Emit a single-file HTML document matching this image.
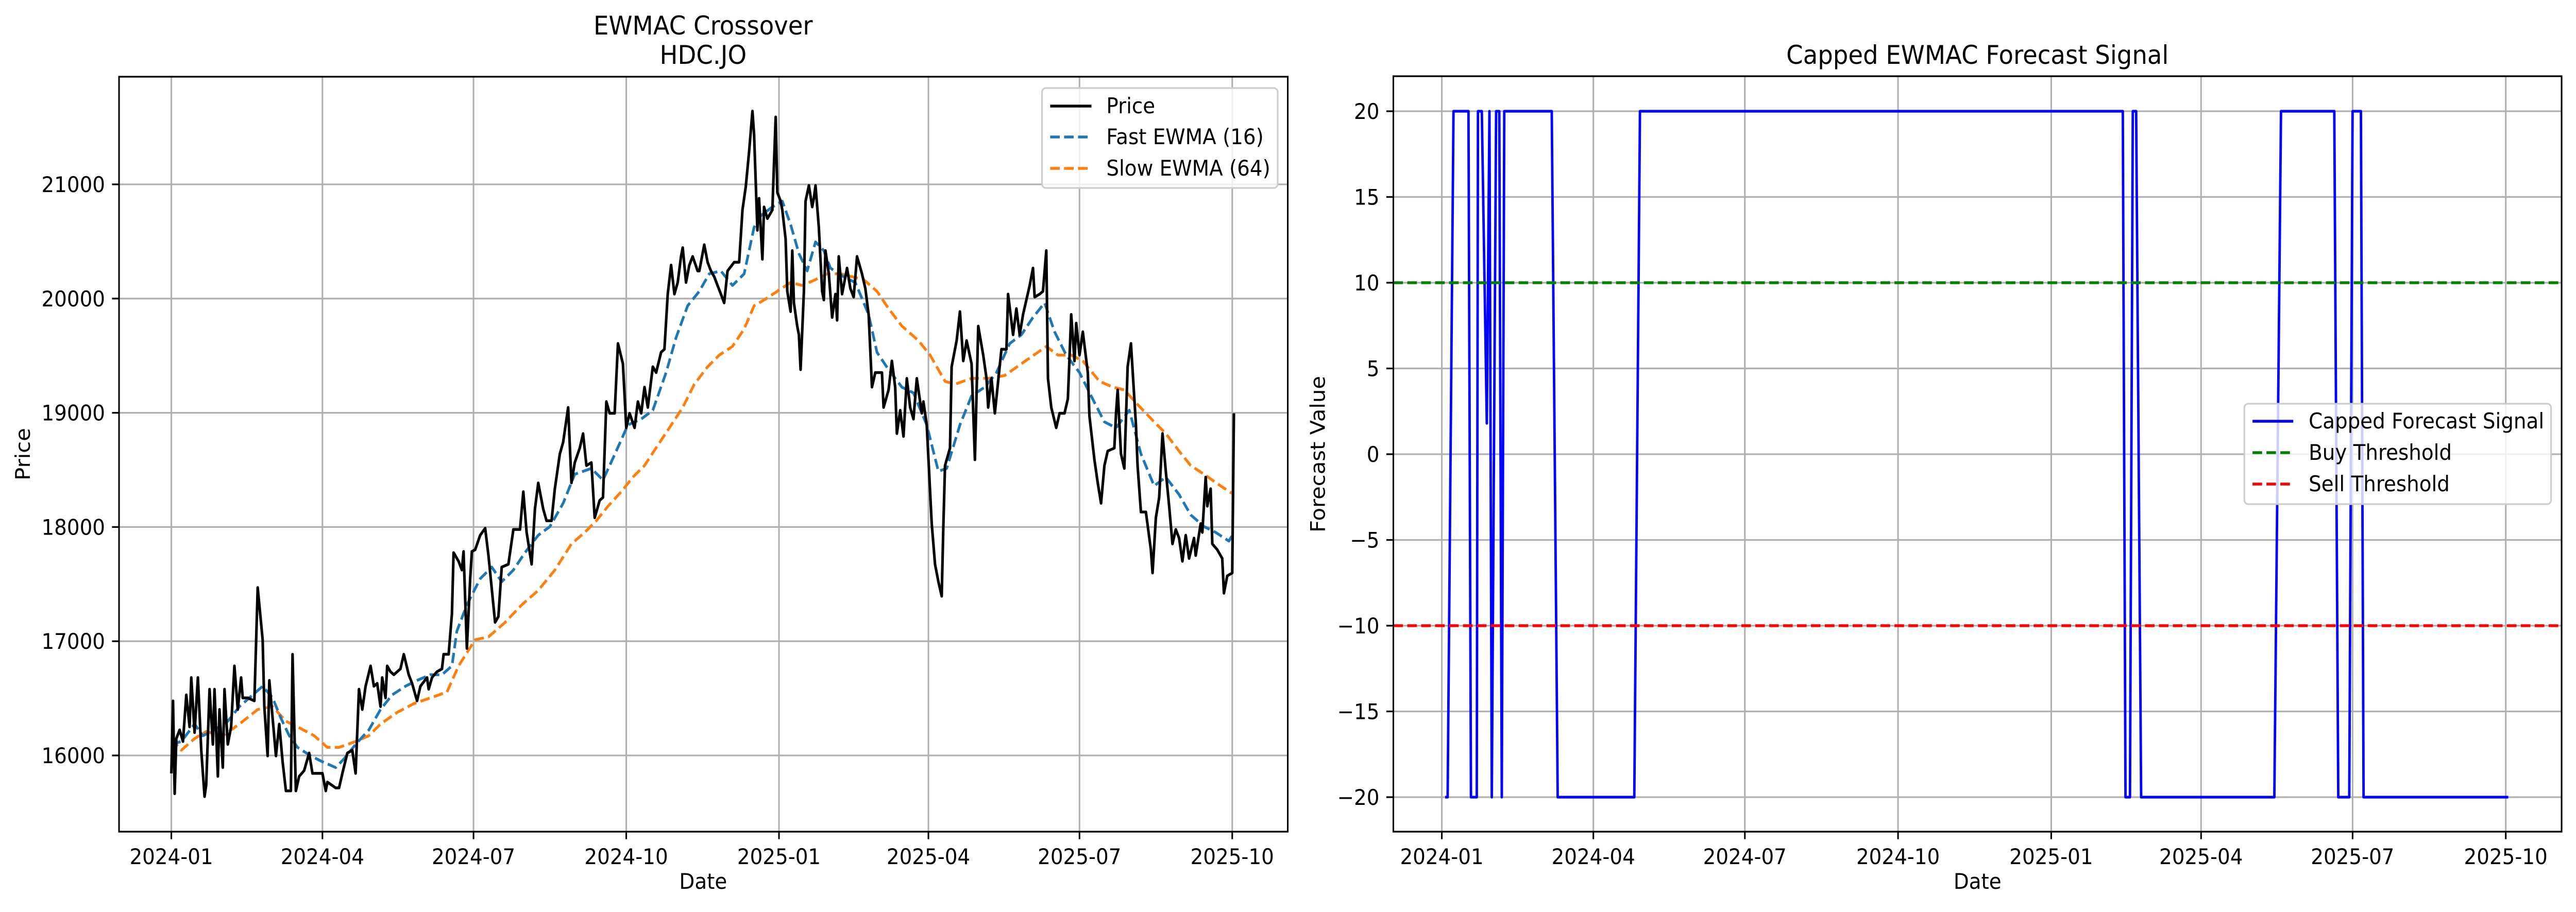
<!DOCTYPE html>
<html><head><meta charset="utf-8"><style>
html,body{margin:0;padding:0;background:#fff;width:100%;height:100%;overflow:hidden;}
svg#chart{display:block;position:absolute;left:0;top:0;width:100vw;height:100vh;font-family:"DejaVu Sans","Liberation Sans",sans-serif;}
</style></head><body>
<svg id="chart" viewBox="0 0 5367 1771" preserveAspectRatio="none" xmlns="http://www.w3.org/2000/svg">
<rect width="5367" height="1771" fill="#fff"/>
<g id="left"></g>
<g id="right"></g>
<g id="annot" font-family="DejaVu Sans, Liberation Sans, sans-serif">
<text x="1465" y="67" font-size="50" text-anchor="middle">EWMAC Crossover</text>
<text x="1465" y="124" font-size="50" text-anchor="middle">HDC.JO</text>
<text x="1465" y="1726" font-size="41.7" text-anchor="middle">Date</text>
<text x="0" y="0" font-size="41.7" text-anchor="middle" transform="translate(62,882) rotate(-90)">Price</text>
<text x="4120" y="124" font-size="50" text-anchor="middle">Capped EWMAC Forecast Signal</text>
<text x="4120" y="1726" font-size="41.7" text-anchor="middle">Date</text>
<text x="0" y="0" font-size="41.7" text-anchor="middle" transform="translate(2760,882) rotate(-90)">Forecast Value</text>
<g>
<rect x="2171" y="171" width="491" height="194" rx="8" fill="#fff" fill-opacity="0.8" stroke="#cccccc" stroke-width="3.3"/>
<line x1="2188" x2="2274" y1="206" y2="206" stroke="#000" stroke-width="5.5"/>
<text x="2305" y="220" font-size="41.7">Price</text>
<line x1="2188" x2="2274" y1="266" y2="266" stroke="#1f77b4" stroke-width="5.5" stroke-dasharray="20 9"/>
<text x="2305" y="280" font-size="41.7">Fast EWMA (16)</text>
<line x1="2188" x2="2274" y1="327" y2="327" stroke="#ff7f0e" stroke-width="5.5" stroke-dasharray="20 9"/>
<text x="2305" y="341" font-size="41.7">Slow EWMA (64)</text>
</g>
<g>
<rect x="4676" y="784" width="639" height="195" rx="8" fill="#fff" fill-opacity="0.8" stroke="#cccccc" stroke-width="3.3"/>
<line x1="4693" x2="4778" y1="818" y2="818" stroke="#0000ff" stroke-width="5.5"/>
<text x="4810" y="832" font-size="41.7">Capped Forecast Signal</text>
<line x1="4693" x2="4778" y1="879" y2="879" stroke="#008000" stroke-width="5.5" stroke-dasharray="20 9"/>
<text x="4810" y="893" font-size="41.7">Buy Threshold</text>
<line x1="4693" x2="4778" y1="940" y2="940" stroke="#ff0000" stroke-width="5.5" stroke-dasharray="20 9"/>
<text x="4810" y="954" font-size="41.7">Sell Threshold</text>
</g>
</g>
</svg>
<script>
const xTickLabels = ["2024-01","2024-04","2024-07","2024-10","2025-01","2025-04","2025-07","2025-10"];
const xTickDays = [0,91,182,274,366,456,547,639];
const priceTicks = [16000,17000,18000,19000,20000,21000];
const signalTicks = [-20,-15,-10,-5,0,5,10,15,20];

const priceDays = [0,1,2,3,5,7,9,11,12,14,16,18,20,21,23,25,26,28,29,31,32,34,36,38,40,42,43,46,50,52,55,56,58,59,61,63,65,67,69,72,73,75,77,80,83,85,91,93,94,99,101,103,106,109,111,113,115,117,120,122,124,126,127,129,130,132,134,138,140,143,145,148,150,154,155,157,160,163,164,167,169,170,173,175,176,178,180,181,183,186,189,191,195,197,199,203,206,210,212,214,217,219,221,224,226,229,231,234,236,239,241,243,246,248,250,253,255,258,260,262,264,267,269,272,274,276,279,281,283,285,287,290,292,295,297,299,301,303,305,307,308,310,312,314,317,318,321,323,325,327,329,331,333,335,339,342,344,346,348,350,351,353,354,356,357,359,362,363,364,365,367,368,370,371,373,374,375,377,378,379,381,382,384,386,387,388,390,392,393,394,396,398,400,401,402,404,407,409,411,413,416,418,420,422,424,428,429,432,434,436,437,439,441,443,445,447,449,452,453,455,458,460,462,464,465,466,469,470,473,475,477,479,482,484,486,489,491,492,494,496,500,503,504,507,509,511,513,517,519,520,523,525,527,528,530,533,535,538,540,542,544,545,547,549,552,553,556,558,560,562,564,568,569,570,572,574,576,578,581,582,584,587,590,591,593,595,597,599,601,603,605,607,609,611,613,616,617,620,621,623,624,626,627,630,633,634,636,639,640];
const priceValues = [15843,16478,15665,16148,16224,16122,16530,16250,16682,16200,16682,16046,15640,15741,16580,16097,16580,15817,16402,15894,16580,16097,16250,16784,16402,16682,16504,16504,16478,17470,17013,16428,15996,16657,16326,15996,16275,15945,15690,15690,16886,15690,15817,15868,16021,15843,15843,15690,15767,15716,15716,15843,16021,16046,15843,16580,16402,16606,16784,16606,16631,16428,16682,16504,16784,16733,16707,16758,16886,16707,16631,16478,16606,16682,16580,16682,16733,16758,16886,16886,17242,17776,17700,17623,17786,16937,17547,17786,17801,17928,17989,17750,17165,17216,17649,17674,17979,17979,18309,17953,17674,18157,18386,18157,18055,18055,18335,18640,18742,19047,18386,18564,18691,18818,18538,18564,18081,18233,18259,19098,18996,18996,19607,19429,18869,18996,18869,19098,18996,19225,19047,19403,19352,19530,19556,20039,20293,20039,20141,20369,20446,20141,20293,20369,20242,20242,20471,20318,20242,20191,20115,20039,19962,20242,20318,20318,20776,20980,21285,21641,21438,20598,20878,20344,20802,20700,20776,21183,21590,20929,20853,20776,20522,20064,19886,20420,19962,19759,19683,19378,20064,20853,20990,20802,20878,20990,20624,20064,19988,20420,20217,19835,20039,19810,20369,20039,20267,20089,20013,20369,20217,20089,19860,19225,19352,19352,19047,19200,19454,19225,18818,19022,18793,19301,19047,18945,19301,18996,19098,18894,18030,17674,17521,17394,18004,18538,18691,19403,19632,19886,19454,19632,19429,18589,19759,19505,19301,19047,19301,18996,19556,19556,20039,19683,19912,19683,19861,20115,20267,20013,20039,20064,20420,19301,19047,18869,18996,18996,19123,19861,19454,19785,19505,19709,19352,18971,18589,18386,18208,18538,18665,18691,18996,19200,18640,18513,19403,19607,18894,18538,18131,18131,17801,17598,18081,18259,18818,18488,18182,17852,17979,17903,17700,17928,17725,17903,17750,18030,17953,18437,18182,18335,17852,17801,17725,17420,17572,17598,18996];

const fastDays = [0,6,14,19,26,34,41,49,55,61,66,71,76,84,91,99,104,111,119,126,133,141,148,156,163,169,172,178,186,193,199,206,213,221,228,236,243,253,260,268,275,283,290,298,304,311,318,324,331,338,345,351,355,362,368,373,378,383,388,393,397,405,412,420,425,432,440,447,455,462,467,475,482,490,497,505,512,519,526,532,539,547,554,562,569,577,584,592,599,607,614,622,629,637,640];
const fastValues = [16097,16122,16275,16173,16224,16300,16428,16530,16606,16504,16326,16173,16071,15996,15945,15894,15970,16097,16224,16402,16530,16606,16657,16707,16707,16784,17089,17318,17547,17649,17521,17623,17776,17928,18004,18208,18462,18513,18411,18665,18894,18945,19022,19352,19658,19937,20064,20217,20242,20115,20217,20624,20725,20802,20853,20649,20395,20242,20496,20420,20267,20191,20140,19860,19530,19378,19225,19174,18894,18488,18513,18894,19148,19225,19352,19607,19683,19835,19962,19709,19505,19352,19148,18920,18869,19022,18640,18360,18437,18284,18106,18004,17953,17877,17953];

const slowDays = [0,6,14,21,31,41,52,61,69,76,86,94,101,111,119,126,136,146,156,166,173,183,191,201,211,221,231,241,249,256,263,271,278,285,293,300,308,315,323,330,338,345,351,357,365,373,380,388,395,403,410,417,425,432,440,450,457,466,472,482,492,502,512,522,527,534,542,549,559,567,574,582,592,599,607,614,622,632,640];
const slowValues = [16148,16046,16148,16209,16173,16275,16402,16428,16300,16250,16173,16071,16071,16122,16173,16275,16377,16453,16504,16555,16784,17013,17038,17165,17318,17445,17623,17852,17953,18055,18182,18309,18437,18538,18716,18869,19047,19250,19403,19505,19581,19734,19937,19988,20064,20141,20115,20166,20217,20217,20191,20166,20064,19912,19760,19632,19505,19276,19250,19301,19301,19327,19429,19530,19581,19505,19505,19454,19276,19225,19200,19073,18920,18818,18665,18538,18462,18360,18284];

const signalDays = [2,3.5,7,16,17.5,21,21.7,24,27,28.6,30,32.6,34.5,36,37.5,66,69.6,115.6,119,409,410.6,413.3,415,417,420,500,504,536,538.4,545,547,552,553.6,640.5];
const signalValues = [-20,-20,20,20,-20,-20,20,20,1.8,20,-20,20,20,-20,20,20,-20,-20,20,20,-20,-20,20,20,-20,-20,20,20,-20,-20,20,20,-20,-20];
const buyThreshold = [10];
const sellThreshold = [-10];

const NS = "http://www.w3.org/2000/svg";
function mk(parent, tag, attrs, text){
  const e = document.createElementNS(NS, tag);
  for (const k in attrs) e.setAttribute(k, attrs[k]);
  if (text !== undefined) e.textContent = text;
  parent.appendChild(e);
  return e;
}
const FS = 41.7;

function drawPanel(g, cfg){
  const {L,R,T,B,xs,ys,yTicks,yFmt} = cfg;
  xTickDays.forEach((d,i)=>{
    const x = xs(d);
    const gl = mk(g,"line",{x1:x,x2:x,y1:T,y2:B,stroke:"#b0b0b0","stroke-width":3.3});
    
    
    const tk = mk(g,"line",{x1:x,x2:x,y1:B,y2:B+14.6,stroke:"#000","stroke-width":3.3});
    
    
    const tl = mk(g,"text",{x:x,y:B+63,"font-size":FS,"text-anchor":"middle",fill:"#000"},xTickLabels[i]);
    
    
  });
  yTicks.forEach(v=>{
    const y = ys(v);
    const gl = mk(g,"line",{x1:L,x2:R,y1:y,y2:y,stroke:"#b0b0b0","stroke-width":3.3});
    
    
    const tk = mk(g,"line",{x1:L-14.6,x2:L,y1:y,y2:y,stroke:"#000","stroke-width":3.3});
    
    
    const tl = mk(g,"text",{x:L-29,y:y+15,"font-size":FS,"text-anchor":"end",fill:"#000"},yFmt(v));
    
    
  });
}
function frame(g,L,R,T,B){
  const f = mk(g,"rect",{x:L,y:T,width:R-L,height:B-T,fill:"none",stroke:"#000","stroke-width":3.3});
  
  
}
function poly(g, days, vals, xs, ys, attrs, name){
  const pts = days.map((d,i)=>xs(d).toFixed(1)+","+ys(vals[i]).toFixed(1)).join(" ");
  const p = mk(g,"polyline",Object.assign({points:pts,fill:"none","stroke-linejoin":"round"},attrs));
  
  
  return p;
}

const gl = document.getElementById("left");
const LL=248, LR=2683, LT=149, LB=1615;
const lxs = d => 357 + d*3.459;
const lys = v => 358 + (21000-v)*0.2218;
drawPanel(gl,{L:LL,R:LR,T:LT,B:LB,xs:lxs,ys:lys,yTicks:priceTicks,yFmt:v=>String(v)});
poly(gl, slowDays, slowValues, lxs, lys, {stroke:"#ff7f0e","stroke-width":5.5,"stroke-dasharray":"20 9"}, "slow-ewma-line");
poly(gl, fastDays, fastValues, lxs, lys, {stroke:"#1f77b4","stroke-width":5.5,"stroke-dasharray":"20 9"}, "fast-ewma-line");
poly(gl, priceDays, priceValues, lxs, lys, {stroke:"#000","stroke-width":5.5}, "price-line");
frame(gl,LL,LR,LT,LB);

const gr = document.getElementById("right");
const RL=2903, RR=5337, RT=148, RB=1615;
const rxs = d => 3004 + d*3.469;
const rys = v => 882 - v*33.3;
drawPanel(gr,{L:RL,R:RR,T:RT,B:RB,xs:rxs,ys:rys,yTicks:signalTicks,yFmt:v=>v<0?"\u2212"+Math.abs(v):String(v)});
poly(gr, signalDays, signalValues, rxs, rys, {stroke:"#0000ff","stroke-width":5.2}, "capped-forecast-signal-line");
const buy = mk(gr,"line",{x1:RL,x2:RR,y1:rys(buyThreshold[0]),y2:rys(buyThreshold[0]),stroke:"#008000","stroke-width":5.5,"stroke-dasharray":"20 9"});


const sell = mk(gr,"line",{x1:RL,x2:RR,y1:rys(sellThreshold[0]),y2:rys(sellThreshold[0]),stroke:"#ff0000","stroke-width":5.5,"stroke-dasharray":"20 9"});


frame(gr,RL,RR,RT,RB);
</script>
</body></html>
